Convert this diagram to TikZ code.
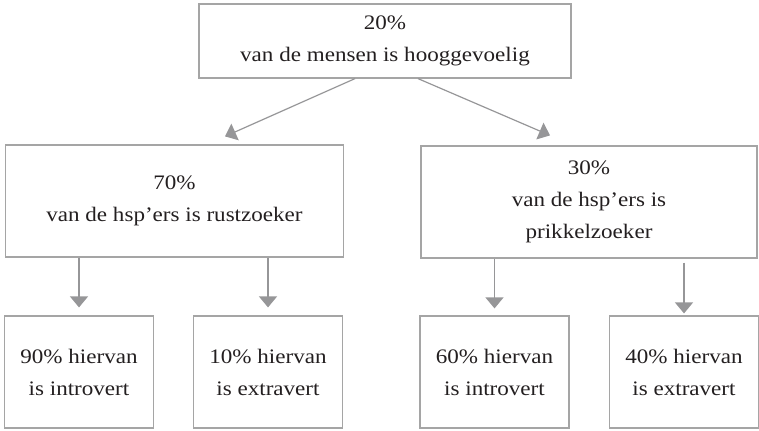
\documentclass[tikz,border=0pt]{standalone}
\usepackage{fontspec}
\setmainfont{Liberation Serif}[FakeStretch=1.12]
\usetikzlibrary{arrows.meta,calc}
\definecolor{boxgray}{RGB}{165,165,165}
\definecolor{arrowgray}{RGB}{150,150,152}
\definecolor{textgray}{RGB}{35,31,32}
\tikzset{
  box/.style={draw=boxgray, line width=0.6pt, align=center, text=textgray, inner sep=0pt,
    font=\fontsize{10.3}{16}\selectfont},
  bigbox/.style={box, minimum width=169pt, minimum height=56pt},
  smallbox/.style={box, minimum width=74.5pt, minimum height=56pt},
  arrow/.style={draw=arrowgray, line width=0.6pt, -{Triangle[width=9pt,length=5.5pt]}}
}

\begin{document}
\begin{tikzpicture}[x=0.5pt,y=-0.5pt]
\useasboundingbox (0,0) rectangle (759,430);

\node[box, minimum width=186pt, minimum height=37pt] (mensen) at (385,41) {20\%\\van de mensen is hooggevoelig};

\node[bigbox] (rust) at (174.5,201) {70\%\\van de hsp’ers is rustzoeker};
\node[bigbox, minimum width=168pt] (prikkel) at (589,202) {30\%\\van de hsp’ers is\\prikkelzoeker};

\node[smallbox] (intro1) at (79,372) {90\% hiervan\\is introvert};
\node[smallbox] (extra1) at (268,372) {10\% hiervan\\is extravert};
\node[smallbox] (intro2) at (494.5,372) {60\% hiervan\\is introvert};
\node[smallbox] (extra2) at (684,372) {40\% hiervan\\is extravert};

\draw[arrow] ($(mensen.south)+(-30,0)$) -- ($(rust.north)+(50.5,-8)$);
\draw[arrow] ($(mensen.south)+(33,0)$) -- ($(prikkel.north)+(-39,-10)$);

\draw[arrow] (rust.south -| intro1.north) -- ($(intro1.north)+(0,-8)$);
\draw[arrow] (rust.south -| extra1.north) -- ($(extra1.north)+(0,-8)$);
\draw[arrow] (prikkel.south -| intro2.north) -- ($(intro2.north)+(0,-7)$);
\draw[arrow] ($(prikkel.south -| extra2.north)+(0,4)$) -- ($(extra2.north)+(0,-2)$);
\end{tikzpicture}
\end{document}
